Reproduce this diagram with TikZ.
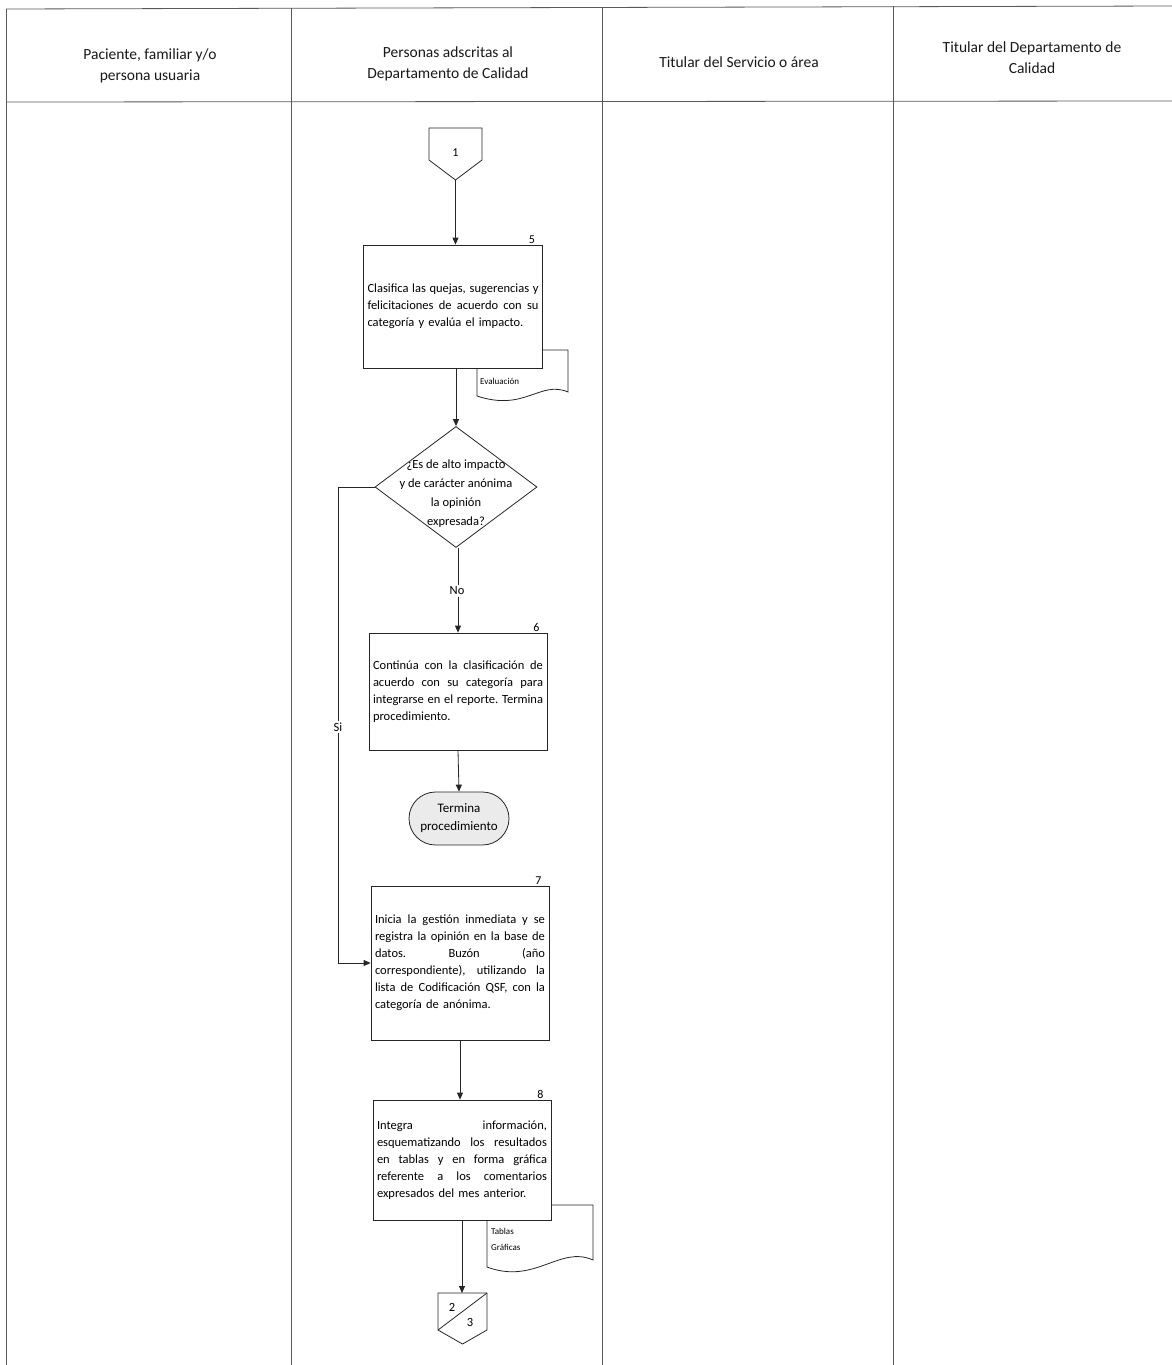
\documentclass[tikz,border=0pt]{standalone}
\usepackage{fontspec}
\setmainfont{Carlito}
\usetikzlibrary{arrows.meta,shapes.geometric,shapes.misc,calc}
\newcommand{\jl}[1]{\leavevmode\hbox to \hsize{\spaceskip=0.22em plus 1fil\relax\xspaceskip=0.22em plus 1fil\relax #1}}
\begin{document}
\begin{tikzpicture}[x=1pt,y=-1pt,
  tline/.style={draw=black!65, line width=0.8pt},
  line/.style={draw=black!85, line width=0.8pt},
  arr/.style={line, -{Triangle[length=7pt,width=6pt]}},
  hdr/.style={align=center, font=\fontsize{15.5}{21}\selectfont, text=black!90},
  proc/.style={draw=black!85, line width=0.8pt, fill=white, align=left,
    font=\fontsize{12.5}{17}\selectfont, inner sep=4pt},
  num/.style={anchor=south, inner sep=1pt, font=\fontsize{12}{13}\selectfont},
  small/.style={font=\fontsize{9}{16}\selectfont, align=left, inner sep=0pt},
  lbl/.style={fill=white, inner sep=2pt, font=\fontsize{12.5}{13}\selectfont},
  docshape/.style={draw=black!85, line width=0.8pt, fill=white}
]
\useasboundingbox (0,0) rectangle (1172,1365);
\fill[white] (0,0) rectangle (1172,1365);

% table
\draw[tline] (6,9) -- (1172,6);
\draw[tline] (6,102) -- (1172,101);
\draw[tline] (6,9) -- (6,1365);
\draw[tline] (291,8) -- (291,1365);
\draw[tline] (602,7) -- (602,1365);
\draw[tline] (893,6) -- (893,1365);

\node[hdr] (h1) at (150,66) {Paciente, familiar y/o\\persona usuaria};
\node[hdr] (h2) at (448,64) {Personas adscritas al\\Departamento de Calidad};
\node[hdr] (h3) at (739,62) {Titular del Servicio o área};
\node[hdr] (h4) at (1032,58) {Titular del Departamento de\\Calidad};

% connector 1
\draw[line] (429,128) -- (482,128) -- (482,160) -- (455.5,180) -- (429,160) -- cycle;
\coordinate (c1tip) at (455.5,180);
\node[font=\fontsize{12}{13}\selectfont] (c1) at (455.5,153) {1};

% document Evaluacion (behind box 5)
\draw[docshape] (477,350) -- (568,350) -- (568,392)
  .. controls (540,380) and (525,412) .. (477,396) -- cycle;
\node[small, anchor=west] (ev) at (480,381) {Evaluación};

% box 5
\node[proc, minimum width=179pt, minimum height=123pt, text width=171pt] (b5) at (453,306.5)
 {\jl{Clasifica las quejas, sugerencias y}\\\jl{felicitaciones de acuerdo con su}\\categoría y evalúa el impacto.};
\node[num] at ([xshift=-11pt]b5.north east) {5};

% diamond
\node[draw=black!85, line width=0.8pt, diamond, inner sep=0pt, minimum width=162pt, minimum height=121pt] (d) at (456,487) {};
\node[align=center, font=\fontsize{12.5}{19}\selectfont] (dt) at (456,494) {¿Es de alto impacto\\y de carácter anónima\\la opinión\\expresada?};

% box 6
\node[proc, minimum width=178pt, minimum height=117pt, text width=170pt] (b6) at (458,691.5)
 {\jl{Continúa con la clasificación de}\\\jl{acuerdo con su categoría para}\\\jl{integrarse en el reporte. Termina}\\procedimiento.};
\node[num] at ([xshift=-11pt]b6.north east) {6};

% terminator
\node[draw=black!85, line width=0.8pt, fill=black!8, rounded rectangle, minimum width=104pt, minimum height=53pt, align=center, font=\fontsize{13}{18}\selectfont, inner sep=2pt] (t) at (459,818.5) {Termina\\procedimiento};

% box 7
\node[proc, minimum width=178pt, minimum height=154pt, text width=170pt] (b7) at (460,963)
 {\jl{Inicia la gestión inmediata y se}\\\jl{registra la opinión en la base de}\\\jl{datos. Buzón (año}\\\jl{correspondiente), utilizando la}\\\jl{lista de Codificación QSF, con la}\\categoría de anónima.};
\node[num] at ([xshift=-11pt]b7.north east) {7};

% document Tablas Graficas (behind box 8)
\draw[docshape] (487,1205) -- (593,1205) -- (593,1260)
  .. controls (560,1245) and (535,1285) .. (487,1267) -- cycle;
\node[small, anchor=north west] (tg) at (491,1228) {Tablas\\Gráficas};

% box 8
\node[proc, minimum width=178pt, minimum height=120pt, text width=170pt] (b8) at (462,1160)
 {\jl{Integra información,}\\\jl{esquematizando los resultados}\\\jl{en tablas y en forma gráfica}\\\jl{referente a los comentarios}\\expresados del mes anterior.};
\node[num] at ([xshift=-11pt]b8.north east) {8};

% connector 2/3
\draw[line] (438,1293) -- (487,1293) -- (487,1330) -- (462.5,1344) -- (438,1330) -- cycle;
\coordinate (c2top) at (462,1293);
\draw[line] (438,1330) -- (487,1293);
\node[font=\fontsize{12.5}{13}\selectfont] (c2a) at (452,1307) {2};
\node[font=\fontsize{12.5}{13}\selectfont] (c2b) at (470,1322) {3};

% connectors
\draw[arr] (c1tip) -- (c1tip |- b5.north);
\draw[arr] (d.north |- b5.south) -- (d.north);
\draw[arr] (b6.north |- d.south) -- (b6.north);
\node[lbl] (no) at (457,591) {No};
\coordinate (sicorner) at (338,487);
\draw[arr] (d.west) -- (sicorner) |- (b7.west);
\node[lbl] (si) at (338,727) {Si};
\draw[arr] (b6.south) -- (t.north);
\draw[arr] (b7.south) -- (b7.south |- b8.north);
\draw[arr] (b8.south) -- (c2top);
\end{tikzpicture}
\end{document}
